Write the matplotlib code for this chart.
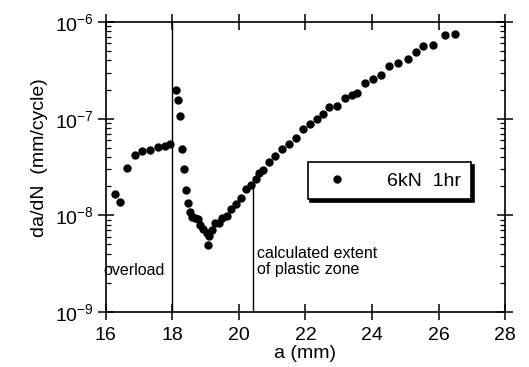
import matplotlib
matplotlib.use("Agg")
import matplotlib.pyplot as plt
from matplotlib.ticker import LogLocator, NullFormatter, FixedLocator

plt.rcParams['font.family'] = ['Liberation Sans', 'DejaVu Sans']
plt.rcParams['mathtext.fontset'] = 'custom'
plt.rcParams['mathtext.rm'] = 'Liberation Sans'
plt.rcParams['mathtext.it'] = 'Liberation Sans:italic'
plt.rcParams['mathtext.bf'] = 'Liberation Sans:bold'

# Crack length a (mm) and growth rate da/dN (mm/cycle), 6 kN overload held 1 hr
crack_length = [16.29, 16.43, 16.63, 16.87, 17.09, 17.32, 17.57, 17.77, 17.92,
                18.10, 18.18, 18.23, 18.30, 18.35, 18.40, 18.46, 18.53, 18.60,
                18.68, 18.78, 18.83, 18.93, 19.03, 19.10, 19.06, 19.18, 19.28,
                19.41, 19.50, 19.63, 19.75, 19.90, 20.06, 20.21, 20.35, 20.50,
                20.61, 20.73, 20.91, 21.08, 21.28, 21.51, 21.71, 21.93, 22.14,
                22.34, 22.52, 22.72, 22.94, 23.19, 23.39, 23.56, 23.79, 24.02,
                24.27, 24.52, 24.79, 25.07, 25.32, 25.54, 25.83, 26.20, 26.48]
growth_rate = [1.68e-8, 1.37e-8, 3.09e-8, 4.19e-8, 4.60e-8, 4.79e-8, 5.07e-8, 5.27e-8, 5.44e-8,
               1.97e-7, 1.56e-7, 1.07e-7, 4.83e-8, 3.00e-8, 1.82e-8, 1.34e-8, 1.07e-8, 9.6e-9,
               9.4e-9, 9.1e-9, 7.9e-9, 7.3e-9, 6.6e-9, 6.05e-9, 4.9e-9, 7.1e-9, 8.3e-9,
               8.3e-9, 9.4e-9, 9.8e-9, 1.15e-8, 1.32e-8, 1.51e-8, 1.89e-8, 2.08e-8, 2.40e-8,
               2.74e-8, 2.92e-8, 3.57e-8, 4.12e-8, 4.91e-8, 5.53e-8, 6.38e-8, 7.9e-8, 8.9e-8,
               1.00e-7, 1.13e-7, 1.31e-7, 1.35e-7, 1.62e-7, 1.75e-7, 1.85e-7, 2.35e-7, 2.56e-7,
               2.82e-7, 3.50e-7, 3.73e-7, 4.10e-7, 4.92e-7, 5.64e-7, 5.78e-7, 7.30e-7, 7.50e-7]

overload_position = 18.0
plastic_zone_end = 20.42
plastic_zone_rate = 2.1e-8

x_ticks = [16, 18, 20, 22, 24, 26, 28]
series_label = "6kN  1hr"

fig = plt.figure(figsize=(5.29, 3.67), dpi=100)
ax = fig.add_axes([0.200, 0.150, 0.755, 0.790])

ax.plot(crack_length, growth_rate, 'o', color='black', markersize=5,
        linestyle='none', label=series_label)

ax.axvline(overload_position, color='black', linewidth=1.0)
ax.plot([plastic_zone_end, plastic_zone_end], [1e-9, plastic_zone_rate],
        color='black', linewidth=1.0)

ax.set_yscale('log')
ax.set_xlim(16, 28)
ax.set_ylim(1e-9, 1e-6)

ax.xaxis.set_major_locator(FixedLocator(x_ticks))
ax.set_xticklabels([str(t) for t in x_ticks])
ax.yaxis.set_major_locator(LogLocator(base=10))
ax.yaxis.set_minor_locator(LogLocator(base=10, subs=range(2, 10)))
ax.yaxis.set_minor_formatter(NullFormatter())

ax.tick_params(axis='both', which='major', direction='inout', length=11, width=1.1,
               top=True, right=True, labelsize=14, pad=3)
ax.tick_params(axis='x', which='major', pad=5)
ax.tick_params(axis='y', which='minor', direction='in', length=3.5, width=0.9,
               left=True, right=True)
for spine in ax.spines.values():
    spine.set_linewidth(1.2)

ax.set_xlabel("a (mm)", fontsize=14, labelpad=1)
ax.set_ylabel("da/dN  (mm/cycle)", fontsize=14)
ax.yaxis.set_label_coords(-0.145, 0.531)

ax.text(15.92, 2.7e-9, "overload", fontsize=11.5, ha='left', va='center')
ax.text(plastic_zone_end + 0.12, 3.3e-9, "calculated extent\nof plastic zone",
        fontsize=11.5, ha='left', va='center', linespacing=1.1)

leg = ax.legend(loc='center', bbox_to_anchor=(0.71, 0.452), fontsize=14,
                frameon=True, fancybox=False, shadow={'color': 'black', 'alpha': 1},
                handletextpad=1.6, borderpad=0.5, markerscale=1.0)
leg.get_frame().set_edgecolor('black')
leg.get_frame().set_linewidth(1.2)

fig.savefig("out.png", dpi=100)
